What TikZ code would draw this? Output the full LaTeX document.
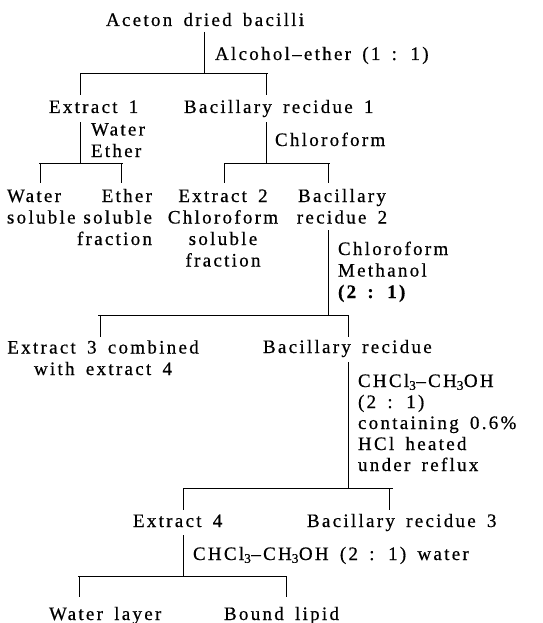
\documentclass[tikz,border=0pt]{standalone}
\usepackage{fontspec}
\setmainfont{Liberation Serif}[LetterSpace=12, WordSpace=1.6, FakeBold=0.6]
\begin{document}
\begin{tikzpicture}[x=1pt,y=-1pt,
  every node/.style={inner sep=0pt, outer sep=0pt, font=\fontsize{19}{21.5}\selectfont},
  txt/.style={anchor=base west},
  txtc/.style={anchor=base, align=center},
  lbl/.style={anchor=base west, align=left},
  conn/.style={line width=1pt, black}]
\useasboundingbox (0,0) rectangle (542,623);
% level 0 (multi-line nodes are placed by the baseline of their last line)
\node[txt] (acet) at (106,26) {Aceton dried bacilli};
\node[lbl] (l1) at (215,60) {Alcohol--ether (1 : 1)};
\coordinate (s1t) at (204,32); \coordinate (s1b) at (204,74);
\coordinate (b1l) at (80,74); \coordinate (b1r) at (268,74);
\coordinate (d1a) at (80,95); \coordinate (d1b) at (266,95); \coordinate (d1bt) at (266,74);
\draw[conn] (s1t) -- (s1b);
\draw[conn] (b1l) -- (b1r);
\draw[conn] (b1l) -- (d1a);
\draw[conn] (d1bt) -- (d1b);
% level 1
\node[txt] (ex1) at (49,113) {Extract 1};
\node[txt] (br1) at (184,113) {Bacillary recidue 1};
\node[lbl] (l2) at (91,157) {Water\\Ether};
\node[lbl] (l3) at (275,146) {Chloroform};
\coordinate (s2t) at (80,122); \coordinate (s2b) at (80,163);
\coordinate (b2l) at (39,163); \coordinate (b2r) at (123,163);
\coordinate (d2at) at (40,163); \coordinate (d2a) at (40,183);
\coordinate (d2bt) at (121,163); \coordinate (d2b) at (121,183);
\draw[conn] (s2t) -- (s2b);
\draw[conn] (b2l) -- (b2r);
\draw[conn] (d2at) -- (d2a);
\draw[conn] (d2bt) -- (d2b);
\coordinate (s3t) at (266,122); \coordinate (s3b) at (266,163);
\coordinate (b3l) at (224,163); \coordinate (b3r) at (330,163);
\coordinate (d3at) at (224,163); \coordinate (d3a) at (224,183);
\coordinate (d3bt) at (328,163); \coordinate (d3b) at (328,183);
\draw[conn] (s3t) -- (s3b);
\draw[conn] (b3l) -- (b3r);
\draw[conn] (d3at) -- (d3a);
\draw[conn] (d3bt) -- (d3b);
% level 2
\node[anchor=base west, align=left] (ws) at (7,223.5) {Water\\soluble};
\node[anchor=base east, align=right] (es) at (152,245) {Ether\\soluble\\fraction};
\node[txtc] (ex2) at (223,266.5) {Extract 2\\Chloroform\\soluble\\fraction};
\node[txtc] (br2) at (342,223.5) {Bacillary\\recidue 2};
\node[lbl] (l4) at (338,298) {Chloroform\\Methanol\\\textbf{(2 : 1)}};
\coordinate (s4t) at (328,230); \coordinate (s4b) at (328,315);
\coordinate (b4l) at (98,315); \coordinate (b4r) at (349,315);
\coordinate (d4at) at (100,315); \coordinate (d4a) at (100,337);
\coordinate (d4bt) at (348,315); \coordinate (d4b) at (348,337);
\draw[conn] (s4t) -- (s4b);
\draw[conn] (b4l) -- (b4r);
\draw[conn] (d4at) -- (d4a);
\draw[conn] (d4bt) -- (d4b);
% level 3
\node[txtc] (ex3) at (103,375) {Extract 3 combined\\with extract 4};
\node[txt] (br) at (263,353) {Bacillary recidue};
\node[lbl, font=\fontsize{19}{21}\selectfont] (l5) at (358,471) {CHCl\textsubscript{3}--CH\textsubscript{3}OH\\(2 : 1)\\containing 0.6\%\\HCl heated\\under reflux};
\coordinate (s5t) at (348,362); \coordinate (s5b) at (348,488);
\coordinate (b5l) at (183,488); \coordinate (b5r) at (393,488);
\coordinate (d5at) at (183,488); \coordinate (d5a) at (183,510);
\coordinate (d5bt) at (389,488); \coordinate (d5b) at (389,510);
\draw[conn] (s5t) -- (s5b);
\draw[conn] (b5l) -- (b5r);
\draw[conn] (d5at) -- (d5a);
\draw[conn] (d5bt) -- (d5b);
% level 4
\node[txt] (ex4) at (133,527) {Extract 4};
\node[txt] (br3) at (307,527) {Bacillary recidue 3};
\node[lbl] (l6) at (193,560) {CHCl\textsubscript{3}--CH\textsubscript{3}OH (2 : 1) water};
\coordinate (s6t) at (183,535); \coordinate (s6b) at (183,576);
\coordinate (b6l) at (78,576); \coordinate (b6r) at (287,576);
\coordinate (d6at) at (79,576); \coordinate (d6a) at (79,597);
\coordinate (d6bt) at (286,576); \coordinate (d6b) at (286,597);
\draw[conn] (s6t) -- (s6b);
\draw[conn] (b6l) -- (b6r);
\draw[conn] (d6at) -- (d6a);
\draw[conn] (d6bt) -- (d6b);
% level 5
\node[txt] (wl) at (49,620) {Water layer};
\node[txt] (bl) at (224,620) {Bound lipid};
\end{tikzpicture}
\end{document}
